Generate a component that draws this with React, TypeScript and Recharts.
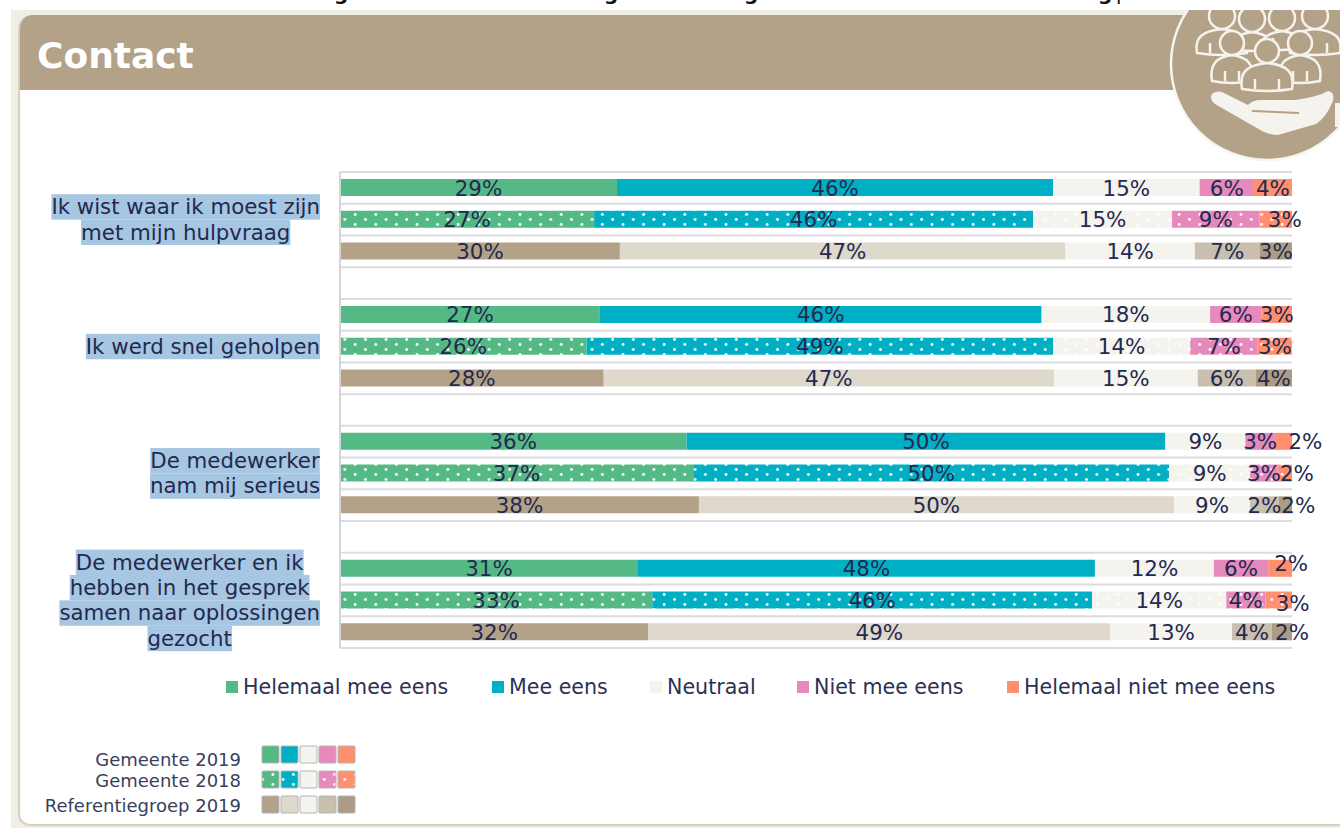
import React from 'react';
import { BarChart, Bar, XAxis, YAxis, CartesianGrid, Cell, LabelList, Legend } from 'recharts';

// One row per bar, blank rows keep the groups apart
const rowIds = ['r0', 'r1', 'r2', 'r3', 'r4', 'r5', 'r6', 'r7', 'r8', 'r9', 'r10', 'r11', 'r12', 'r13', 'r14'];
const rowSets = ['g19', 'g18', 'ref', '', 'g19', 'g18', 'ref', '', 'g19', 'g18', 'ref', '', 'g19', 'g18', 'ref'];

// Segment widths as measured on the picture
const helemaalMeeEens = [29.1, 26.7, 29.4, 0, 27.3, 25.9, 27.7, 0, 36.4, 37.1, 37.7, 0, 31.3, 32.8, 32.4];
const meeEens = [45.8, 46.1, 46.8, 0, 46.4, 49.0, 47.3, 0, 50.3, 50.0, 49.9, 0, 48.0, 46.2, 48.5];
const neutraal = [15.4, 14.6, 13.6, 0, 17.7, 14.4, 15.1, 0, 8.4, 8.5, 8.0, 0, 12.5, 14.1, 12.8];
const nietMeeEens = [5.7, 9.2, 6.8, 0, 5.4, 7.1, 6.1, 0, 3.1, 2.9, 3.0, 0, 5.7, 4.1, 4.2];
const helemaalNiet = [4.0, 3.4, 3.4, 0, 3.2, 3.6, 3.8, 0, 1.8, 1.5, 1.4, 0, 2.5, 2.8, 2.1];

// Percentages as printed
const labelHelemaalMeeEens = ['29%', '27%', '30%', '', '27%', '26%', '28%', '', '36%', '37%', '38%', '', '31%', '33%', '32%'];
const labelMeeEens = ['46%', '46%', '47%', '', '46%', '49%', '47%', '', '50%', '50%', '50%', '', '48%', '46%', '49%'];
const labelNeutraal = ['15%', '15%', '14%', '', '18%', '14%', '15%', '', '9%', '9%', '9%', '', '12%', '14%', '13%'];
const labelNietMeeEens = ['6%', '9%', '7%', '', '6%', '7%', '6%', '', '3%', '3%', '2%', '', '6%', '4%', '4%'];
const labelHelemaalNiet = ['4%', '3%', '3%', '', '3%', '3%', '4%', '', '2%', '2%', '2%', '', '2%', '3%', '2%'];

const questions: Record<number, string[]> = {
  1: ['Ik wist waar ik moest zijn', 'met mijn hulpvraag'],
  5: ['Ik werd snel geholpen'],
  9: ['De medewerker', 'nam mij serieus'],
  13: ['De medewerker en ik', 'hebben in het gesprek', 'samen naar oplossingen', 'gezocht']
};

const keyNames = ['Gemeente 2019', 'Gemeente 2018', 'Referentiegroep 2019'];

const GREEN = '#55b985';
const TEAL = '#00afc3';
const NEUTRAL = '#f5f3ee';
const PINK = '#e689bb';
const ORANGE = '#ff8f6e';
const TAN = '#b3a287';
const INK = '#23294f';
const FONT = '"DejaVu Sans", sans-serif';

const series = [
  { key: 'a', label: 'la', name: 'Helemaal mee eens', color: GREEN, dots: 'dotsGreen', ref: TAN },
  { key: 'b', label: 'lb', name: 'Mee eens', color: TEAL, dots: 'dotsTeal', ref: '#dfd8cc' },
  { key: 'c', label: 'lc', name: 'Neutraal', color: NEUTRAL, dots: 'dotsNeutral', ref: NEUTRAL },
  { key: 'd', label: 'ld', name: 'Niet mee eens', color: PINK, dots: 'dotsPink', ref: '#c9bfae' },
  { key: 'e', label: 'le', name: 'Helemaal niet mee eens', color: ORANGE, dots: 'dotsOrange', ref: '#ab9c83' }
];

const data = rowIds.map((row, i) => ({
  row,
  a: helemaalMeeEens[i],
  b: meeEens[i],
  c: neutraal[i],
  d: nietMeeEens[i],
  e: helemaalNiet[i],
  la: labelHelemaalMeeEens[i],
  lb: labelMeeEens[i],
  lc: labelNeutraal[i],
  ld: labelNietMeeEens[i],
  le: labelHelemaalNiet[i]
}));

// The last label in some rows sits beside its segment in the source.
// LabelList counts printed labels only, so blank rows are not counted here.
const lastLabelShift: Record<number, [number, number]> = {
  1: [9, 0],
  6: [22, 0],
  7: [12, 0],
  8: [13, 0],
  9: [11, -5],
  10: [14, 3],
  11: [10, 0]
};

const legendLeft: Record<string, number> = {
  'Helemaal mee eens': 226,
  'Mee eens': 492,
  Neutraal: 650,
  'Niet mee eens': 797,
  'Helemaal niet mee eens': 1007
};

const measure = (text: string, font: string) => {
  const ctx = document.createElement('canvas').getContext('2d');
  if (!ctx) return text.length * 10;
  ctx.font = font;
  return ctx.measureText(text).width;
};

const QuestionTick = (props: any) => {
  const lines = questions[props.index];
  if (!lines) return <g />;
  const size = 21.3;
  const lineHeight = 25.4;
  const widths = lines.map((l) => measure(l, `${size}px "DejaVu Sans"`));
  const center = props.x - 20 - Math.max(...widths) / 2;
  const top = props.y - (lines.length * lineHeight) / 2;
  return (
    <g>
      {lines.map((line, i) => (
        <rect
          key={line}
          x={center - widths[i] / 2}
          y={top + i * lineHeight}
          width={widths[i]}
          height={lineHeight}
          fill="#a6c6e2"
        />
      ))}
      {lines.map((line, i) => (
        <text
          key={line}
          x={center}
          y={top + i * lineHeight + 20}
          textAnchor="middle"
          fontFamily={FONT}
          fontSize={size}
          fill={INK}
        >
          {line}
        </text>
      ))}
    </g>
  );
};

const makeValueLabel = (isLast: boolean) => (props: any) => {
  if (!props.value) return <g />;
  const shift = isLast ? lastLabelShift[props.index] || [0, 0] : [0, 0];
  return (
    <text
      x={props.x + props.width / 2 + shift[0]}
      y={props.y + props.height / 2 + 8 + shift[1]}
      textAnchor="middle"
      fontFamily={FONT}
      fontSize={21.4}
      fill={INK}
    >
      {props.value}
    </text>
  );
};

const LegendRow = (props: any) => (
  <div style={{ position: 'relative', width: 1340, height: 0 }}>
    {(props.payload || []).map((entry: any) => (
      <div
        key={entry.value}
        style={{
          position: 'absolute',
          left: legendLeft[entry.value],
          top: 0,
          display: 'flex',
          alignItems: 'center',
          height: 24,
          whiteSpace: 'nowrap',
          fontFamily: FONT,
          fontSize: 20.6,
          color: '#2b3154'
        }}
      >
        <span style={{ width: 12, height: 12, marginRight: 5, background: entry.color, display: 'inline-block' }} />
        {entry.value}
      </div>
    ))}
  </div>
);

const Person = ({ x, y, r, w, h, arms }: { x: number; y: number; r: number; w: number; h: number; arms: number }) => (
  <g>
    <path
      d={`M ${x - w} ${y + h} C ${x - w - 3} ${y + r + 8} ${x - w + 6} ${y + r + 2} ${x} ${y + r} C ${x + w - 6} ${y + r + 2} ${x + w + 3} ${y + r + 8} ${x + w} ${y + h} Q ${x} ${y + h + 4} ${x - w} ${y + h} Z`}
      fill={TAN}
      stroke={NEUTRAL}
      strokeWidth={2.5}
    />
    <line x1={x - arms} y1={y + h - 10} x2={x - arms} y2={y + h} stroke={NEUTRAL} strokeWidth={2.5} />
    <line x1={x + arms} y1={y + h - 10} x2={x + arms} y2={y + h} stroke={NEUTRAL} strokeWidth={2.5} />
    <circle cx={x} cy={y} r={r} fill={TAN} stroke={NEUTRAL} strokeWidth={2.5} />
  </g>
);

const Dots = ({ id, color, dot }: { id: string; color: string; dot: string }) => (
  <pattern id={id} patternUnits="userSpaceOnUse" width={20.6} height={10} x={0} y={2}>
    <rect width={20.6} height={10} fill={color} />
    <circle cx={5} cy={2.5} r={1.4} fill={dot} />
    <circle cx={15.3} cy={7.5} r={1.4} fill={dot} />
  </pattern>
);

const Frame = () => (
  <>
    <div style={{ position: 'absolute', left: 11, top: 10, width: 1329, height: 818, background: '#f1eee6' }} />
    <div
      style={{
        position: 'absolute',
        left: 18,
        top: 15,
        width: 1330,
        height: 811,
        boxSizing: 'border-box',
        background: '#ffffff',
        borderLeft: '2px solid #d6d0c2',
        borderBottom: '2px solid #d6d0c2',
        borderRadius: '14px 0 0 12px',
        overflow: 'hidden'
      }}
    >
      <div style={{ width: '100%', height: 75, background: TAN }} />
    </div>
    <div
      style={{
        position: 'absolute',
        left: 37,
        top: 35,
        fontFamily: FONT,
        fontWeight: 700,
        fontSize: 36,
        color: '#ffffff'
      }}
    >
      Contact
    </div>
  </>
);

const Overlay = () => (
  <svg width={1340} height={828} style={{ position: 'absolute', left: 0, top: 0 }}>
    <defs>
      <clipPath id="iconClip">
        <rect x={1100} y={10} width={240} height={170} />
      </clipPath>
    </defs>
    {/* cut off line of text above the panel */}
    <g fontFamily={FONT} fontWeight={700} fontSize={20} fill="#111111">
      <text x={334} y={0}>g</text>
      <text x={604} y={0}>g</text>
      <text x={744} y={0}>g</text>
      <text x={1098} y={0}>g</text>
      <text x={1116} y={0} fontWeight={400}>p</text>
    </g>
    <g clipPath="url(#iconClip)">
      <circle cx={1267} cy={64} r={96} fill={TAN} stroke="#f7f5f0" strokeWidth={2.5} />
      <Person x={1222} y={16} r={13} w={25} h={37} arms={12} />
      <Person x={1315} y={16} r={13} w={25} h={37} arms={12} />
      <Person x={1252} y={19} r={13} w={20} h={30} arms={9} />
      <Person x={1282} y={18} r={13} w={20} h={30} arms={9} />
      <Person x={1232} y={43} r={12} w={20} h={38} arms={7} />
      <Person x={1300} y={43} r={12} w={20} h={38} arms={7} />
      <Person x={1267} y={51} r={12} w={25} h={38} arms={12} />
      <path
        d="M 1213 93 Q 1219 90 1224 93 L 1248 105 Q 1253 100 1260 100 L 1295 100 Q 1318 97 1328 91 Q 1335 92 1333 101 Q 1326 118 1316 124 L 1278 135 Q 1270 135 1262 131 L 1215 104 Q 1208 98 1213 93 Z"
        fill="#f5f3ee"
      />
      <path d="M 1252 111 L 1299 113" stroke={TAN} strokeWidth={2} fill="none" />
      <rect x={1335} y={103} width={5} height={24} fill="#f5f3ee" />
    </g>
    {/* year key */}
    {keyNames.map((name, i) => {
      const y = [746, 771, 796][i];
      const baseline = [766, 787, 812][i];
      return (
        <g key={name}>
          <text
            x={241}
            y={baseline}
            textAnchor="end"
            fontFamily={FONT}
            fontSize={18}
            fill="#3a3f5c"
          >
            {name}
          </text>
          {series.map((s, j) => (
            <rect
              key={s.key}
              x={262 + j * 19}
              y={y}
              width={17}
              height={17}
              rx={1}
              fill={i === 0 ? s.color : i === 1 ? `url(#${s.dots})` : s.ref}
              stroke="#b5b5b5"
              strokeWidth={1}
            />
          ))}
        </g>
      );
    })}
  </svg>
);

export default function App() {
  const fillFor = (s: (typeof series)[number], set: string) => {
    if (set === 'g19') return s.color;
    if (set === 'g18') return `url(#${s.dots})`;
    return s.ref;
  };

  return (
    <div style={{ position: 'fixed', left: 0, top: 0, width: 1340, height: 828, background: '#ffffff', overflow: 'hidden' }}>
      <Frame />
      <div style={{ position: 'absolute', left: 0, top: 0 }}>
        <BarChart
          width={1340}
          height={828}
          data={data}
          layout="vertical"
          barCategoryGap={0}
          margin={{ top: 172, right: 48, bottom: 180, left: 0 }}
        >
          <defs>
            <Dots id="dotsGreen" color={GREEN} dot="#ffffff" />
            <Dots id="dotsTeal" color={TEAL} dot="#ffffff" />
            <Dots id="dotsNeutral" color={NEUTRAL} dot="#ffffff" />
            <Dots id="dotsPink" color={PINK} dot="#ffffff" />
            <Dots id="dotsOrange" color={ORANGE} dot="#ffffff" />
          </defs>
          <CartesianGrid
            vertical={false}
            stroke="#dcdcdf"
            strokeWidth={2}
            horizontalCoordinatesGenerator={({ offset }: any) =>
              [...rowIds, 'end'].map((_, i) => offset.top + (i * offset.height) / rowIds.length)
            }
          />
          <XAxis type="number" domain={[0, 100]} hide />
          <YAxis
            type="category"
            dataKey="row"
            width={340}
            interval={0}
            tickLine={false}
            tickSize={0}
            tickMargin={0}
            axisLine={{ stroke: '#d6d6da', strokeWidth: 2 }}
            tick={QuestionTick}
          />
          <Legend
            layout="horizontal"
            verticalAlign="middle"
            align="center"
            content={LegendRow}
            wrapperStyle={{ left: 0, top: 675, width: 1340, height: 0 }}
          />
          {series.map((s, si) => (
            <Bar
              key={s.key}
              dataKey={s.key}
              name={s.name}
              stackId="all"
              fill={s.color}
              barSize={17}
              isAnimationActive={false}
            >
              {rowSets.map((set, i) => (
                <Cell key={rowIds[i]} fill={fillFor(s, set)} />
              ))}
              <LabelList dataKey={s.label} content={makeValueLabel(si === series.length - 1)} />
            </Bar>
          ))}
        </BarChart>
      </div>
      <Overlay />
    </div>
  );
}
